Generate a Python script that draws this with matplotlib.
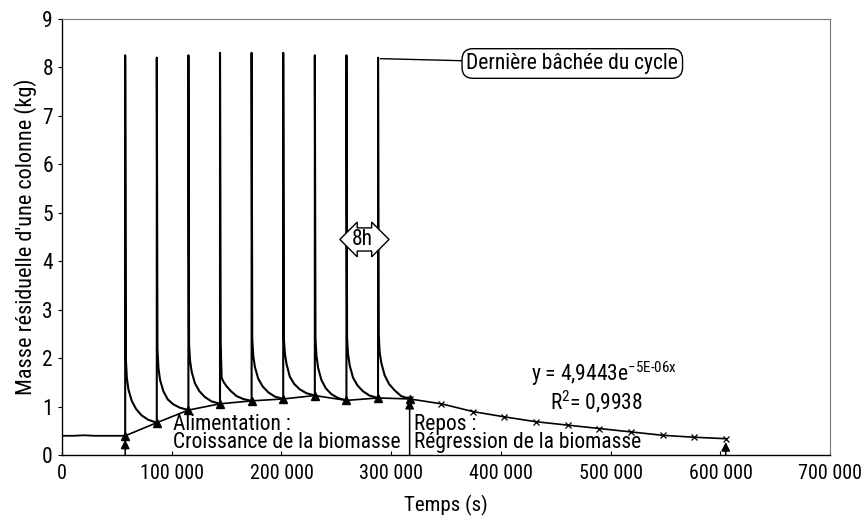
import matplotlib
matplotlib.use("Agg")
import matplotlib.pyplot as plt
from matplotlib import font_manager
import numpy as np

# ---------------- data ----------------
pre_t = [0, 10000, 20000, 30000, 40000, 50000, 57600]
pre_m = [0.40, 0.40, 0.41, 0.40, 0.40, 0.40, 0.40]

spike_t = [57600, 86400, 115200, 144000, 172800, 201600, 230400, 259200, 288000]
decay_offsets = [0, 600, 1500, 3000, 6000, 10000, 15000, 21000, 28800]
decay_vals = [
    [8.25, 2.00, 1.60, 1.35, 1.12, 0.95, 0.82, 0.73, 0.67],
    [8.20, 2.20, 1.80, 1.55, 1.32, 1.15, 1.05, 0.98, 0.93],
    [8.25, 2.30, 1.95, 1.72, 1.48, 1.32, 1.20, 1.11, 1.06],
    [8.30, 2.30, 1.60, 1.52, 1.42, 1.32, 1.22, 1.16, 1.12],
    [8.30, 2.40, 2.05, 1.82, 1.58, 1.42, 1.30, 1.21, 1.16],
    [8.30, 2.40, 2.10, 1.88, 1.62, 1.47, 1.36, 1.28, 1.23],
    [8.25, 2.40, 2.05, 1.80, 1.55, 1.38, 1.26, 1.18, 1.13],
    [8.25, 2.40, 2.08, 1.85, 1.60, 1.44, 1.32, 1.23, 1.18],
    [8.20, 2.50, 2.12, 1.90, 1.65, 1.47, 1.34, 1.22, 1.16],
]

base_t = [57600, 86400, 115200, 144000, 172800, 201600, 230400, 259200, 288000, 316800]
base_m = [0.40, 0.67, 0.93, 1.06, 1.12, 1.16, 1.23, 1.13, 1.18, 1.16]

rest_t = [316800, 345600, 374400, 403200, 432000, 460800, 489600, 518400, 547200, 576000, 604800]
rest_m = [1.16, 1.06, 0.90, 0.79, 0.69, 0.62, 0.55, 0.48, 0.41, 0.37, 0.34]

phase_t = [57600, 316800, 604800]
phase_m = [0.32, 1.14, 0.27]

x_ticks = [0, 100000, 200000, 300000, 400000, 500000, 600000, 700000]
x_labels = ["0", "100 000", "200 000", "300 000", "400 000", "500 000", "600 000", "700 000"]
y_ticks = list(range(0, 10))

# ---------------- fonts ----------------
names = {f.name for f in font_manager.fontManager.ttflist}
fam = []
for cand in ["Liberation Sans Narrow", "Arial Narrow", "Roboto Condensed", "Archivo Narrow",
             "PT Sans Narrow", "Liberation Sans"]:
    if cand in names:
        fam = [cand]
        break
plt.rcParams["font.family"] = fam + ["DejaVu Sans"]
plt.rcParams["mathtext.fontset"] = "custom"
plt.rcParams["mathtext.rm"] = fam[0] if fam else "DejaVu Sans"
FS = 15.5

fig = plt.figure(figsize=(8.63, 5.25), dpi=100)
ax = fig.add_axes([0.0718, 0.133, 0.8902, 0.831])

# main mass curve
ax.plot(pre_t, pre_m, color="black", lw=1.3)
for k, t0 in enumerate(spike_t):
    ts = [t0] + [t0 + o for o in decay_offsets]
    ms = [base_m[k]] + decay_vals[k]
    ax.plot(ts, ms, color="black", lw=1.5)

# baseline (triangles)
ax.plot(base_t, base_m, color="black", lw=1.2, marker="^", ms=6, mfc="black", mec="black")
# rest phase with x markers
ax.plot(rest_t, rest_m, color="black", lw=1.2, marker="x", ms=4, mew=0.9)

# phase arrows
for t, m in zip(phase_t, phase_m):
    ax.annotate("", xy=(t, m), xytext=(t, 0),
                arrowprops=dict(arrowstyle="-|>", color="black", lw=1.1, mutation_scale=13,
                                shrinkA=0, shrinkB=0))

# texts
ax.text(101000, 0.84, "Alimentation :\nCroissance de la biomasse", ha="left", va="top",
        fontsize=FS, linespacing=0.78)
ax.text(321000, 0.84, "Repos :\nRégression de la biomasse", ha="left", va="top",
        fontsize=FS, linespacing=0.78)
ax.text(494000, 1.68, r"y = 4,9443e$^{\mathregular{-5E\text{-}06x}}$", ha="center", va="center", fontsize=FS)
ax.text(487000, 1.10, r"R$^{\mathregular{2}}$= 0,9938", ha="center", va="center", fontsize=FS)

# callout
ax.annotate("Dernière bâchée du cycle", xy=(290000, 8.18), xytext=(465000, 8.08),
            ha="center", va="center", fontsize=FS,
            bbox=dict(boxstyle="round,pad=0.2,rounding_size=0.5", fc="white", ec="black", lw=1),
            arrowprops=dict(arrowstyle="-", color="black", lw=1, shrinkA=0, shrinkB=0))

# 8h marker
ax.text(273600, 4.45, "8h", ha="center", va="center", fontsize=FS,
        bbox=dict(boxstyle="darrow,pad=0.05", fc="white", ec="black", lw=1))

ax.set_xlim(0, 700000)
ax.set_ylim(0, 9)
ax.set_xticks(x_ticks)
ax.set_xticklabels(x_labels)
ax.set_yticks(y_ticks)
ax.tick_params(axis="x", direction="in", length=3, labelsize=14.5, pad=6)
ax.tick_params(axis="y", direction="out", length=3, labelsize=15.5)
for s in ["top", "right"]:
    ax.spines[s].set_color("#777777")
    ax.spines[s].set_linewidth(0.8)
ax.spines["left"].set_linewidth(1.0)
ax.spines["bottom"].set_linewidth(1.0)

ax.set_xlabel("Temps (s)", fontsize=15, labelpad=9)
ax.set_ylabel("Masse résiduelle d'une colonne (kg)", fontsize=16, labelpad=4)

fig.savefig("out.png", dpi=100)
